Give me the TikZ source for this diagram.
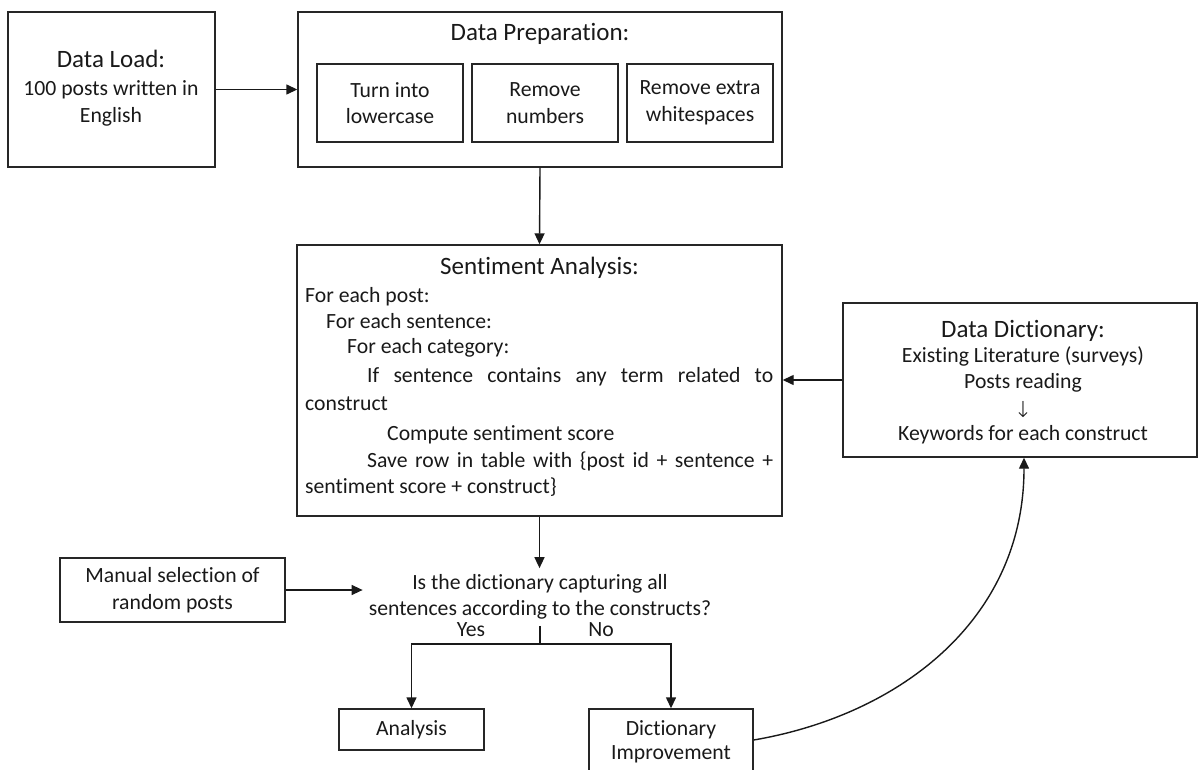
\documentclass[tikz,border=0pt]{standalone}
\usepackage{fontspec}
\setmainfont{Carlito}[Ligatures=NoCommon]
\newfontfamily\symfont{DejaVu Sans ExtraLight}
\usetikzlibrary{arrows.meta}

\newcommand\bodyfont{\fontsize{21.7}{26.5}\selectfont}
\newcommand\headfont{\fontsize{25}{28}\selectfont}

\tikzset{
  x=1pt, y=-1pt,
  box/.style={draw=black!85, line width=1.4pt, rectangle, inner sep=0pt,
              align=center, font=\bodyfont, text=black!90},
  txt/.style={inner sep=0pt, font=\bodyfont, text=black!90},
  head/.style={inner sep=0pt, font=\headfont, text=black!90},
  link/.style={line width=1.4pt, draw=black!90},
  arr/.style={link, -{Triangle[length=11pt,width=10pt]}},
}

\begin{document}
\begin{tikzpicture}
\useasboundingbox (0,0) rectangle (1198,770);

% ---- data load ----
\node[box, minimum width=207, minimum height=155] (load) at (111.5,89.5) {};
\node[head, anchor=base] (loadtitle) at (111,68) {Data Load:};
\node[txt, anchor=base] (load1) at (111,96) {100 posts written in};
\node[txt, anchor=base] (load2) at (111,123) {English};

% ---- data preparation ----
\node[box, minimum width=484, minimum height=155] (prep) at (540,89.5) {};
\node[head, anchor=base] (preptitle) at (540,41) {Data Preparation:};
\node[box, minimum width=146, minimum height=78] (lower) at (390,103)
  {Turn into\\lowercase};
\node[box, minimum width=146, minimum height=78] (nums) at (545,103)
  {Remove\\numbers};
\node[box, minimum width=146, minimum height=78] (ws) at (700,103)
  {Remove extra\\whitespaces};

% ---- sentiment analysis ----
\node[box, minimum width=485, minimum height=271] (sa) at (539.5,380.5) {};
\node[head, anchor=base] (satitle) at (539.5,274) {Sentiment Analysis:};
\node[txt, anchor=base west] (sa1) at (305,302) {For each post:};
\node[txt, anchor=base west] (sa2) at (326,328) {For each sentence:};
\node[txt, anchor=base west] (sa3) at (347,353) {For each category:};
\node[txt, anchor=base west] (sa4) at (367,382)
  {\makebox[406pt][s]{If sentence contains any term related to}};
\node[txt, anchor=base west] (sa5) at (305,410) {construct};
\node[txt, anchor=base west] (sa6) at (387,440) {Compute sentiment score};
\node[txt, anchor=base west] (sa7) at (367,467)
  {\makebox[406pt][s]{Save row in table with \{post id + sentence +}};
\node[txt, anchor=base west] (sa8) at (305,493) {sentiment score + construct\}};

% ---- data dictionary ----
\node[box, minimum width=354, minimum height=154] (dd) at (1020,380) {};
\node[head, anchor=base] (ddtitle) at (1023,337) {Data Dictionary:};
\node[txt, anchor=base] (dd1) at (1023,362) {Existing Literature (surveys)};
\node[txt, anchor=base] (dd2) at (1023,388) {Posts reading};
\node[txt, anchor=center, font=\symfont\fontsize{22}{24}\selectfont] (dd3) at (1023,410) {↓};
\node[txt, anchor=base] (dd4) at (1023,440) {Keywords for each construct};

% ---- check step ----
\node[box, minimum width=225, minimum height=64] (man) at (172.5,590)
  {Manual selection of\\random posts};
\node[txt, align=center, inner sep=6pt] (q) at (540,597)
  {Is the dictionary capturing all\\sentences according to the constructs?};
\node[txt, anchor=base] (yes) at (471,636) {Yes};
\node[txt, anchor=base] (no) at (601,636) {No};
\coordinate (split) at (540,644);

\node[box, minimum width=145, minimum height=41] (ana) at (411.5,729.5) {Analysis};
\node[box, minimum width=164, minimum height=82] (imp) at (671,750) {};
\node[txt, anchor=base] (imp1) at (671,735) {Dictionary};
\node[txt, anchor=base] (imp2) at (671,759) {Improvement};

% ---- connectors ----
\draw[arr] (load.east) -- (prep.west);
\draw[arr] (prep.south) -- (sa.north);
\draw[arr] (dd.west) -- (dd.west -| sa.east);
\draw[arr] (sa.south) -- (sa.south |- q.north);
\draw[arr] (man.east) -- (man.east -| q.west);
\draw[link] (q.south) -- (split);
\draw[arr] (split) -| (ana.north);
\draw[arr] (split) -| (imp.north);
\draw[arr] ([yshift=10pt]imp.east) .. controls +(146,-25) and +(0,162) .. ([xshift=4pt]dd.south);
\end{tikzpicture}
\end{document}
